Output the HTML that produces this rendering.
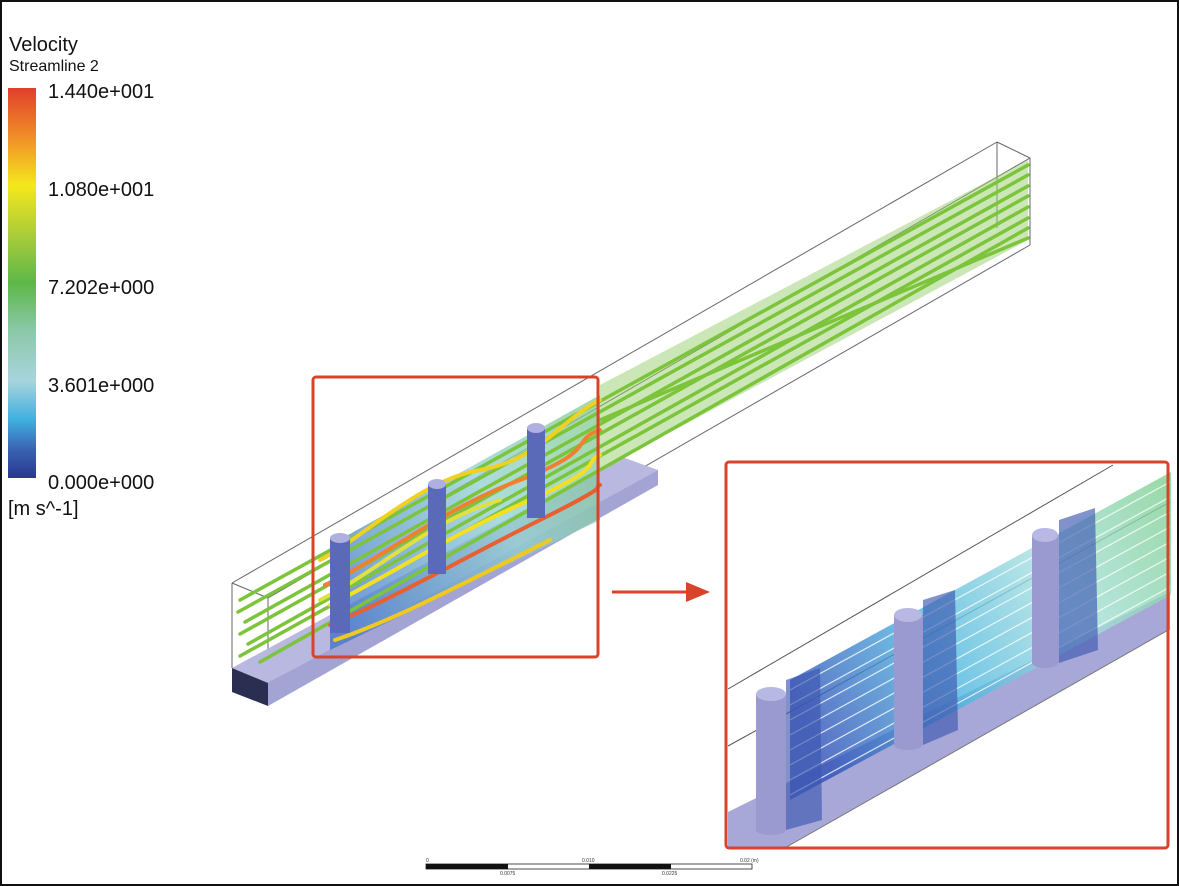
<!DOCTYPE html>
<html><head><meta charset="utf-8"><style>
body{margin:0;background:#fff;}
svg{display:block;font-family:"Liberation Sans",sans-serif;}
</style></head><body>
<svg width="1179" height="886" viewBox="0 0 1179 886" xmlns="http://www.w3.org/2000/svg">
<defs>
<linearGradient id="leg" x1="0" y1="0" x2="0" y2="1">
<stop offset="0" stop-color="#e0402a"/><stop offset="0.12" stop-color="#f08a28"/><stop offset="0.25" stop-color="#f4e81c"/><stop offset="0.38" stop-color="#a8cc3a"/><stop offset="0.5" stop-color="#5cb848"/><stop offset="0.62" stop-color="#8ac8a8"/><stop offset="0.75" stop-color="#a8d4dc"/><stop offset="0.85" stop-color="#40b0e0"/><stop offset="0.93" stop-color="#3a60b0"/><stop offset="1" stop-color="#283890"/></linearGradient>
<linearGradient id="band" x1="790" y1="700" x2="1170" y2="480" gradientUnits="userSpaceOnUse">
<stop offset="0" stop-color="#3050b8"/><stop offset="0.35" stop-color="#50b8e0"/><stop offset="0.65" stop-color="#a8e0e0"/><stop offset="1" stop-color="#80d090"/></linearGradient>
<linearGradient id="mid" x1="320" y1="600" x2="660" y2="400" gradientUnits="userSpaceOnUse">
<stop offset="0" stop-color="#3a70c8"/><stop offset="0.5" stop-color="#90d0d0"/><stop offset="1" stop-color="#80c870"/></linearGradient>
</defs>
<rect x="1" y="1" width="1177" height="884" fill="#fff" stroke="#111" stroke-width="2"/>
<text x="9" y="51" font-size="20" fill="#111">Velocity</text>
<text x="9" y="71" font-size="16" fill="#111">Streamline 2</text>
<rect x="8" y="88" width="28" height="390" fill="url(#leg)"/>
<g font-size="20" fill="#111">
<text x="48" y="98">1.440e+001</text>
<text x="48" y="196">1.080e+001</text>
<text x="48" y="294">7.202e+000</text>
<text x="48" y="392">3.601e+000</text>
<text x="48" y="489">0.000e+000</text>
<text x="8" y="515">[m s^-1]</text>
</g>
<g stroke="#666" stroke-width="1" fill="none">
<line x1="232" y1="583" x2="997" y2="142"/>
<line x1="268" y1="598" x2="1030" y2="158"/>
<line x1="997" y1="142" x2="1030" y2="158"/>
<line x1="232" y1="583" x2="268" y2="598"/>
<line x1="232" y1="583" x2="232" y2="668"/>
<line x1="268" y1="598" x2="268" y2="683"/>
<line x1="1030" y1="158" x2="1030" y2="245"/>
<line x1="997" y1="142" x2="997" y2="228"/>
<line x1="268" y1="683" x2="1030" y2="245"/>
</g>
<polygon points="232,668 268,683 658,470 622,457" fill="#b8b8e0"/>
<polygon points="232,668 268,683 268,706 232,692" fill="#2a2e50"/>
<polygon points="268,683 658,470 658,485 268,706" fill="#a4a4d4"/>
<polygon points="330,545 600,395 600,520 330,650" fill="url(#mid)" opacity="0.75"/>
<polygon points="600,385 1028,160 1028,240 600,470" fill="#9ad070" opacity="0.5"/>
<g stroke="#7cc43a" stroke-width="3.5" stroke-linecap="round" fill="none">
<line x1="240" y1="600" x2="1028" y2="165"/>
<line x1="238" y1="612" x2="1028" y2="175"/>
<line x1="245" y1="622" x2="1028" y2="186"/>
<line x1="240" y1="634" x2="1028" y2="196"/>
<line x1="248" y1="644" x2="1028" y2="207"/>
<line x1="240" y1="656" x2="1028" y2="218"/>
<line x1="260" y1="662" x2="1028" y2="228"/>
<line x1="600" y1="420" x2="1028" y2="238"/>
</g>
<g stroke-width="4" fill="none" stroke-linecap="round">
<path d="M320,560 C360,540 420,480 480,470 S560,420 600,400" stroke="#f0d020"/>
<path d="M325,585 C380,560 440,510 520,480 S570,440 600,430" stroke="#f08030"/>
<path d="M330,605 C390,575 450,535 530,500 S580,465 600,455" stroke="#f4e020"/>
<path d="M330,625 C390,600 460,560 540,520 S590,490 600,485" stroke="#e86030"/>
<path d="M335,640 C395,620 470,580 550,540" stroke="#f0c820"/>
<path d="M320,600 C380,570 430,520 500,500" stroke="#e0e040"/>
</g>
<g fill="#5a6ab8">
<rect x="330" y="538" width="20" height="95"/><ellipse cx="340" cy="538" rx="10" ry="5" fill="#b0b0e0"/>
<rect x="428" y="484" width="18" height="90"/><ellipse cx="437" cy="484" rx="9" ry="5" fill="#b0b0e0"/>
<rect x="527" y="428" width="18" height="90"/><ellipse cx="536" cy="428" rx="9" ry="5" fill="#b0b0e0"/>
</g>
<rect x="313" y="377" width="285" height="280" rx="3" fill="none" stroke="#d9432a" stroke-width="3"/>
<line x1="612" y1="592" x2="690" y2="592" stroke="#d9432a" stroke-width="3"/>
<polygon points="710,592 686,582 686,602" fill="#d9432a"/>
<g>
<line x1="728" y1="689" x2="1113" y2="465" stroke="#555" stroke-width="1"/>
<line x1="728" y1="746" x2="1170" y2="502" stroke="#555" stroke-width="1"/>
<polygon points="728,812 1170,592 1170,629 783,849 728,849" fill="#a8a8d8"/>
<line x1="783" y1="849" x2="1170" y2="629" stroke="#777" stroke-width="1"/>
<polygon points="790,680 823,662 1171,472 1171,595 790,800" fill="url(#band)" opacity="0.8"/>
<g stroke="#fff" stroke-width="1.2" opacity="0.8" fill="none">
<line x1="790" y1="690" x2="1170" y2="482"/><line x1="790" y1="705" x2="1170" y2="497"/>
<line x1="790" y1="720" x2="1170" y2="512"/><line x1="790" y1="735" x2="1170" y2="527"/>
<line x1="790" y1="750" x2="1170" y2="542"/><line x1="790" y1="765" x2="1170" y2="557"/>
<line x1="790" y1="780" x2="1170" y2="572"/><line x1="790" y1="795" x2="1170" y2="587"/>
</g>
<g fill="#9a9ad0">
<rect x="756" y="694" width="30" height="136"/><ellipse cx="771" cy="694" rx="15" ry="7" fill="#b8b8e4"/><ellipse cx="771" cy="830" rx="15" ry="5"/>
<rect x="894" y="615" width="29" height="130"/><ellipse cx="908" cy="615" rx="14" ry="7" fill="#b8b8e4"/><ellipse cx="908" cy="745" rx="14" ry="5"/>
<rect x="1032" y="535" width="27" height="128"/><ellipse cx="1045" cy="535" rx="13" ry="7" fill="#b8b8e4"/><ellipse cx="1045" cy="663" rx="13" ry="5"/>
</g>
<g fill="#3c58b0" opacity="0.65">
<polygon points="786,680 820,668 822,820 786,830"/>
<polygon points="923,600 955,590 958,730 923,745"/>
<polygon points="1059,520 1095,508 1098,650 1059,663"/>
</g>
</g>
<rect x="726" y="462" width="442" height="386" rx="3" fill="none" stroke="#d9432a" stroke-width="3"/>
<rect x="426" y="864" width="326" height="5" fill="#fff" stroke="#222" stroke-width="0.8"/>
<rect x="426" y="864" width="82" height="5" fill="#111"/>
<rect x="589" y="864" width="82" height="5" fill="#111"/>
<g font-size="5" fill="#333"><text x="426" y="862">0</text><text x="582" y="862">0.010</text><text x="740" y="862">0.02 (m)</text><text x="500" y="875">0.0075</text><text x="662" y="875">0.0225</text></g>
</svg>
</body></html>
